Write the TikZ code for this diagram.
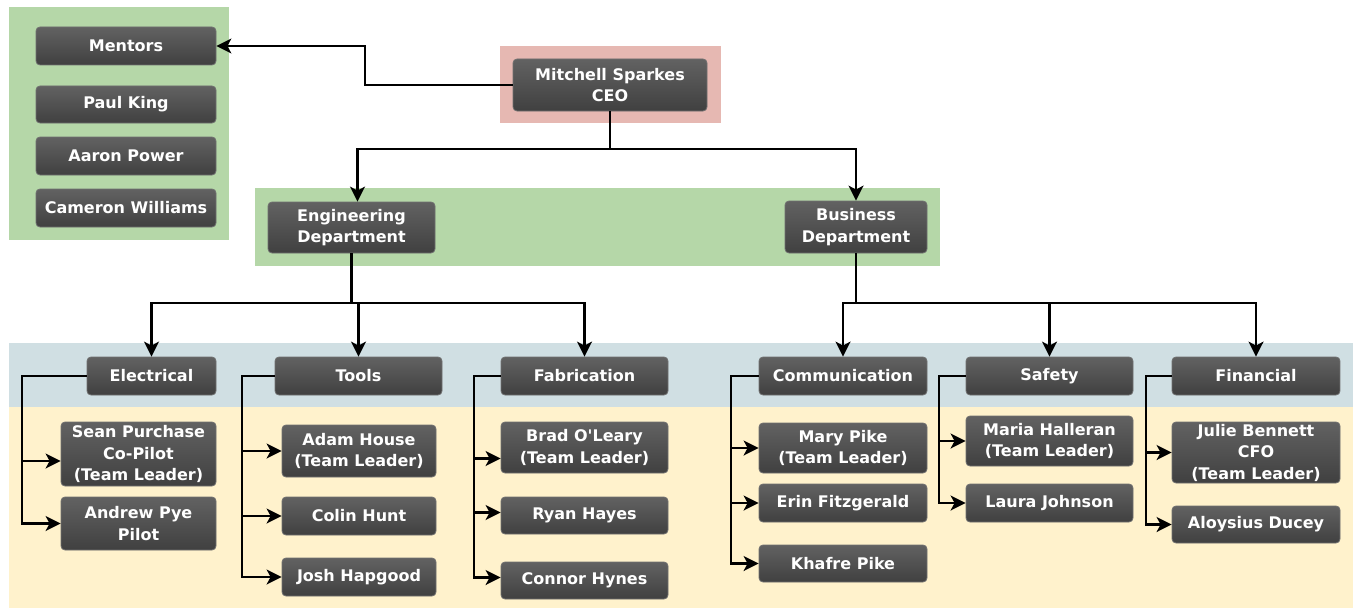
\documentclass[tikz,border=0pt]{standalone}
\usepackage{fontspec}
\newfontfamily\chartfont{DejaVu Sans}
\usetikzlibrary{arrows.meta}
\definecolor{bggreen}{RGB}{181,215,168}
\definecolor{bgpink}{RGB}{230,184,178}
\definecolor{bgblue}{RGB}{208,223,227}
\definecolor{bgyellow}{RGB}{255,242,204}
\definecolor{boxtop}{RGB}{98,98,98}
\definecolor{boxbot}{RGB}{64,64,64}
\definecolor{boxedge}{RGB}{112,112,112}
\begin{document}
\begin{tikzpicture}[x=1pt,y=-1pt,
  box/.style={rounded corners=4pt, draw=boxedge, line width=0.8pt, top color=boxtop, bottom color=boxbot,
    text=white, font=\chartfont\fontsize{16}{21.5}\selectfont\bfseries, align=center, inner sep=0pt},
  arr/.style={line width=2.2pt, -{Stealth[length=15pt,width=15pt,inset=4pt]}},
  ln/.style={line width=2.2pt}]
\useasboundingbox (0,0) rectangle (1353,610);
% backgrounds
\fill[bggreen] (9,7) rectangle (229,240);
\fill[bgpink] (500,46) rectangle (721,123);
\fill[bggreen] (255,188) rectangle (940,266);
\fill[bgblue] (9,343) rectangle (1353,407);
\fill[bgyellow] (9,407) rectangle (1353,608);
% nodes
\node[box, minimum width=180pt, minimum height=38pt] (mentors) at (126,46) {Mentors};
\node[box, minimum width=180pt, minimum height=37pt] (paul) at (126,104.5) {Paul King};
\node[box, minimum width=180pt, minimum height=38pt] (aaron) at (126,156) {Aaron Power};
\node[box, minimum width=180pt, minimum height=38pt] (cameron) at (126,208) {Cameron Williams};
\node[box, minimum width=194pt, minimum height=52pt] (ceo) at (610,85) {Mitchell Sparkes\\CEO};
\node[box, minimum width=167pt, minimum height=51pt] (eng) at (351.5,227.5) {Engineering\\Department};
\node[box, minimum width=142pt, minimum height=52pt] (bus) at (856,227) {Business\\Department};
\node[box, minimum width=129pt, minimum height=38pt] (elec) at (151.5,376) {Electrical};
\node[box, minimum width=167pt, minimum height=38pt] (tools) at (358.5,376) {Tools};
\node[box, minimum width=167pt, minimum height=38pt] (fab) at (584.5,376) {Fabrication};
\node[box, minimum width=168pt, minimum height=38pt] (comm) at (843,376) {Communication};
\node[box, minimum width=167pt, minimum height=38pt] (safety) at (1049.5,376) {Safety};
\node[box, minimum width=168pt, minimum height=38pt] (fin) at (1256,376) {Financial};
\node[box, minimum width=155pt, minimum height=64pt] (sean) at (138.5,454) {Sean Purchase\\Co-Pilot\\(Team Leader)};
\node[box, minimum width=155pt, minimum height=53pt] (andrew) at (138.5,523.5) {Andrew Pye\\Pilot};
\node[box, minimum width=154pt, minimum height=52pt] (adam) at (359,451) {Adam House\\(Team Leader)};
\node[box, minimum width=154pt, minimum height=38pt] (colin) at (359,516) {Colin Hunt};
\node[box, minimum width=154pt, minimum height=38pt] (josh) at (359,577) {Josh Hapgood};
\node[box, minimum width=167pt, minimum height=51pt] (brad) at (584.5,447.5) {Brad O'Leary\\(Team Leader)};
\node[box, minimum width=167pt, minimum height=37pt] (ryan) at (584.5,515.5) {Ryan Hayes};
\node[box, minimum width=167pt, minimum height=37pt] (connor) at (584.5,580.5) {Connor Hynes};
\node[box, minimum width=168pt, minimum height=50pt] (mary) at (843,448) {Mary Pike\\(Team Leader)};
\node[box, minimum width=168pt, minimum height=38pt] (erin) at (843,503) {Erin Fitzgerald};
\node[box, minimum width=168pt, minimum height=37pt] (khafre) at (843,563.5) {Khafre Pike};
\node[box, minimum width=167pt, minimum height=50pt] (maria) at (1049.5,441) {Maria Halleran\\(Team Leader)};
\node[box, minimum width=167pt, minimum height=38pt] (laura) at (1049.5,503) {Laura Johnson};
\node[box, minimum width=168pt, minimum height=61pt] (julie) at (1256,452.5) {Julie Bennett\\CFO\\(Team Leader)};
\node[box, minimum width=168pt, minimum height=37pt] (aloysius) at (1256,524.5) {Aloysius Ducey};
% connectors
\coordinate (cm) at (365,85);
\draw[arr] (ceo.west) -- (cm) |- (mentors.east);
\coordinate (cj) at (610,149);
\draw[ln] (ceo.south) -- (cj);
\draw[arr] (cj) -| ([xshift=6pt]eng.north);
\draw[arr] (cj) -| (bus.north);
\coordinate (ej) at (351.5,303);
\draw[ln] (eng.south) -- (ej);
\draw[arr] (ej) -| (elec.north);
\draw[arr] (ej) -| (tools.north);
\draw[arr] (ej) -| (fab.north);
\coordinate (bj) at (856,303);
\draw[ln] (bus.south) -- (bj);
\draw[arr] (bj) -| (comm.north);
\draw[arr] (bj) -| (safety.north);
\draw[arr] (bj) -| (fin.north);
% team branches
\coordinate (eb) at (22,376);
\draw[arr] (elec.west) -- (eb) |- ([yshift=-7pt]sean.west);
\draw[arr] (elec.west) -- (eb) |- (andrew.west);
\coordinate (tb) at (242,376);
\draw[arr] (tools.west) -- (tb) |- (adam.west);
\draw[arr] (tools.west) -- (tb) |- (colin.west);
\draw[arr] (tools.west) -- (tb) |- (josh.west);
\coordinate (fb) at (474,376);
\draw[arr] (fab.west) -- (fb) |- ([yshift=-11pt]brad.west);
\draw[arr] (fab.west) -- (fb) |- ([yshift=3pt]ryan.west);
\draw[arr] (fab.west) -- (fb) |- ([yshift=3pt]connor.west);
\coordinate (cb) at (731,376);
\draw[arr] (comm.west) -- (cb) |- (mary.west);
\draw[arr] (comm.west) -- (cb) |- (erin.west);
\draw[arr] (comm.west) -- (cb) |- (khafre.west);
\coordinate (sb) at (939,376);
\draw[arr] (safety.west) -- (sb) |- (maria.west);
\draw[arr] (safety.west) -- (sb) |- (laura.west);
\coordinate (fnb) at (1146,376);
\draw[arr] (fin.west) -- (fnb) |- (julie.west);
\draw[arr] (fin.west) -- (fnb) |- (aloysius.west);
\end{tikzpicture}
\end{document}
